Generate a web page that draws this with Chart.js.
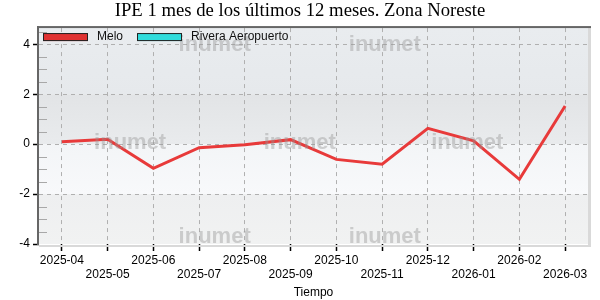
<!DOCTYPE html>
<html>
<head>
<meta charset="utf-8">
<script src="https://cdn.jsdelivr.net/npm/chart.js@4"></script>
<style>
  html, body { margin: 0; padding: 0; background: #fff; }
  #wrap { width: 600px; height: 300px; }
</style>
</head>
<body>
<div id="wrap"><canvas id="ipeChart" width="600" height="300"></canvas></div>
<script>
// datos del gráfico
const meses = ["2025-04", "2025-05", "2025-06", "2025-07", "2025-08", "2025-09",
               "2025-10", "2025-11", "2025-12", "2026-01", "2026-02", "2026-03"];
const melo = [0.1, 0.2, -0.97, -0.14, -0.02, 0.18, -0.61, -0.8, 0.63, 0.13, -1.41, 1.53];
const riveraAeropuerto = [];
const yMin = -4;
const yMax = 4.65;

// fondo en franjas, marcas menores y bordes del área
const plotDecor = {
  id: "plotDecor",
  beforeDraw(chart) {
    const { ctx, chartArea: a, scales: { y } } = chart;
    ctx.save();
    const bands = [
      [yMax, 2, "#e9ecef", "#e6e9ec"],
      [2, 0, "#e2e4e6", "#e9ebed"],
      [0, -2, "#f3f5f7", "#f8f9fb"],
      [-2, yMin, "#eeeff0", "#f1f2f2"]
    ];
    bands.forEach(b => {
      const y0 = y.getPixelForValue(b[0]);
      const y1 = y.getPixelForValue(b[1]);
      const g = ctx.createLinearGradient(0, y0, 0, y1);
      g.addColorStop(0, b[2]);
      g.addColorStop(1, b[3]);
      ctx.fillStyle = g;
      ctx.fillRect(a.left, y0, a.right - a.left, y1 - y0);
    });
    ctx.restore();
  },
  afterDatasetsDraw(chart) {
    const { ctx, chartArea: a, scales: { y } } = chart;
    ctx.save();
    // marcas menores
    ctx.strokeStyle = "#a8a8a8";
    ctx.lineWidth = 1;
    y.ticks.forEach(t => {
      if (t.value % 2 === 0) return;
      const py = Math.round(y.getPixelForValue(t.value)) + 0.5;
      ctx.beginPath();
      ctx.moveTo(a.left, py);
      ctx.lineTo(a.left + 8, py);
      ctx.stroke();
    });
    // marca de agua
    ctx.font = "bold 22px 'Liberation Sans', Arial, sans-serif";
    ctx.fillStyle = "rgba(150,150,150,0.42)";
    ctx.textAlign = "center";
    ctx.textBaseline = "middle";
    const w = a.right - a.left, h = a.bottom - a.top;
    [[0.32, 0.08], [0.63, 0.08], [0.166, 0.53], [0.475, 0.53], [0.78, 0.53], [0.32, 0.965], [0.63, 0.965]]
      .forEach(p => ctx.fillText("inumet", a.left + p[0] * w, a.top + p[1] * h));
    // bordes
    ctx.fillStyle = "#d9d9d9";
    ctx.fillRect(a.right, a.top, 3, a.bottom - a.top + 3);
    ctx.fillRect(a.left, a.bottom + 1, a.right - a.left + 3, 2);
    ctx.fillStyle = "#666";
    ctx.fillRect(a.left - 2, a.top - 2, 2, a.bottom - a.top + 3);
    ctx.fillRect(a.left - 2, a.top - 2, a.right - a.left + 5, 2);
    // leyenda
    ctx.font = "12px 'Liberation Sans', Arial, sans-serif";
    ctx.textAlign = "left";
    ctx.textBaseline = "middle";
    let x = a.left + 4;
    const ly = a.top + 9;
    chart.data.datasets.forEach(ds => {
      ctx.fillStyle = ds.legendColor;
      ctx.fillRect(x, ly - 4, 45, 8);
      ctx.strokeStyle = "#222";
      ctx.lineWidth = 1;
      ctx.strokeRect(x + 0.5, ly - 3.5, 44, 7);
      ctx.fillStyle = "#111";
      ctx.fillText(ds.label, x + 54, ly);
      x += 54 + ctx.measureText(ds.label).width + 14;
    });
    ctx.restore();
  }
};

new Chart(document.getElementById("ipeChart").getContext("2d"), {
  type: "line",
  data: {
    labels: meses,
    datasets: [
      { label: "Melo", data: melo, borderColor: "#e83a3a", legendColor: "#e03232",
        borderWidth: 3, pointRadius: 0, tension: 0, fill: false },
      { label: "Rivera Aeropuerto", data: riveraAeropuerto, borderColor: "#30dcdc", legendColor: "#30dcdc",
        borderWidth: 3, pointRadius: 0, tension: 0, fill: false }
    ]
  },
  options: {
    responsive: false,
    animation: false,
    devicePixelRatio: 1,
    layout: { padding: 0 },
    plugins: {
      legend: { display: false },
      tooltip: { enabled: false },
      title: {
        display: true,
        text: "IPE 1 mes de los últimos 12 meses. Zona Noreste",
        color: "#000",
        font: { family: "'Liberation Serif', 'Times New Roman', serif", size: 18.7, weight: "normal", lineHeight: 1.1 },
        padding: { top: 1, bottom: 6.5 }
      }
    },
    scales: {
      x: {
        offset: true,
        afterFit: s => { s.height = 56; },
        grid: { color: "#b0b0b0", tickColor: "#000", tickLength: 7, tickWidth: 1.5 },
        border: { display: false, dash: [4, 4] },
        ticks: {
          color: "#000",
          padding: 2,
          maxRotation: 0,
          autoSkip: false,
          font: { family: "'Liberation Sans', Arial, sans-serif", size: 12 },
          callback: (v, i) => i % 2 ? ["", meses[i]] : meses[i]
        },
        title: {
          display: true, text: "Tiempo", color: "#000",
          font: { family: "'Liberation Sans', Arial, sans-serif", size: 12 },
          padding: { top: 0, bottom: 0 }
        }
      },
      y: {
        min: yMin,
        max: yMax,
        afterFit: s => { s.width = 39; },
        grid: {
          color: c => c.tick && c.tick.value % 2 === 0 && c.tick.value > yMin ? "#b0b0b0" : "rgba(0,0,0,0)",
          tickColor: c => c.tick && c.tick.value % 2 === 0 ? "#000" : "rgba(0,0,0,0)",
          tickLength: 6,
          tickWidth: 1.5
        },
        border: { display: false, dash: [4, 4] },
        ticks: {
          stepSize: 0.5,
          maxTicksLimit: 100,
          includeBounds: false,
          padding: 3,
          color: "#000",
          font: { family: "'Liberation Sans', Arial, sans-serif", size: 12, lineHeight: 0.7 },
          callback: v => v % 2 === 0 ? String(v) : ""
        }
      },
      // eje vacío a la derecha para dejar el margen
      yDer: {
        position: "right",
        min: yMin,
        max: yMax,
        afterFit: s => { s.width = 12; },
        grid: { display: false },
        border: { display: false },
        ticks: { display: false }
      }
    }
  },
  plugins: [plotDecor]
});
</script>
</body>
</html>
